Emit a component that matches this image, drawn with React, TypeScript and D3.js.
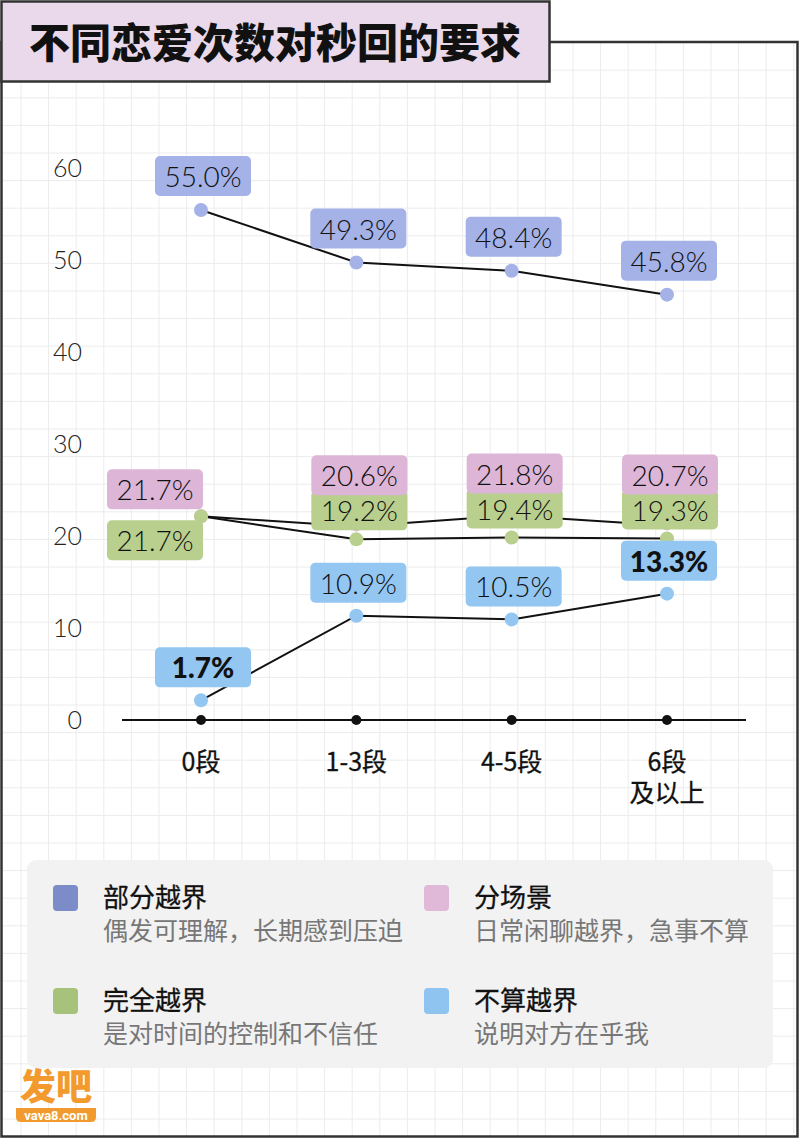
import React from 'react';
import * as d3 from 'd3';

const categories = ['0段', '1-3段', '4-5段', '6段\n及以上'];
const seriesNames = ['部分越界', '分场景', '完全越界', '不算越界'];
const seriesNotes = ['偶发可理解，长期感到压迫', '日常闲聊越界，急事不算', '是对时间的控制和不信任', '说明对方在乎我'];
const partialValues = [55.0, 49.3, 48.4, 45.8];
const sceneValues = [21.7, 20.6, 21.8, 20.7];
const fullValues = [21.7, 19.2, 19.4, 19.3];
const notValues = [1.7, 10.9, 10.5, 13.3];
const yTicks = [0, 10, 20, 30, 40, 50, 60];
const boldLabels = [[], [], [], [0, 3]];

const W = 800;
const H = 1139;
const markColors = ['#a4b2e8', '#dcb5d7', '#b9cf8d', '#93c6f1'];
const legendColors = ['#7b8cc8', '#e0b9d9', '#a7c27b', '#8fc4f0'];
const numFont = "'Lato Light', 'Lato', 'Noto Sans', sans-serif";
const boldNumFont = "'Lato', 'Noto Sans', sans-serif";
const cjkFont = "'Noto Sans CJK SC', 'Noto Sans', sans-serif";

export default function App() {
  const x = d3.scalePoint<string>().domain(categories).range([201, 667]);
  const y = d3.scaleLinear().domain([0, 60]).range([716, 164]);
  const allSeries = [partialValues, sceneValues, fullValues, notValues];
  const line = d3
    .line<number>()
    .x((_, i) => x(categories[i]) as number)
    .y((v) => y(v));

  const gridX = d3.range(21, W, 27.6);
  const gridY = d3.range(15, H, 27.6);

  const BW = 96;
  const BH = 40;
  type Box = { s: number; i: number; cx: number; top: number };
  const boxes: Box[] = [];
  categories.forEach((c, i) => {
    const px = x(c) as number;
    boxes.push({ s: 0, i, cx: px + 2, top: y(partialValues[i]) - 14 - BH });
    boxes.push({ s: 3, i, cx: px + 2, top: y(notValues[i]) - 13 - BH });
    if (i === 0) {
      const py = y(sceneValues[i]);
      boxes.push({ s: 2, i, cx: px - 46, top: py + 4 });
      boxes.push({ s: 1, i, cx: px - 46, top: py - 7 - BH });
    } else {
      const gb = y(fullValues[i]) - 9;
      boxes.push({ s: 2, i, cx: px + 3, top: gb - BH });
      boxes.push({ s: 1, i, cx: px + 3, top: gb - 35 - BH });
    }
  });
  const boxOrder = [0, 2, 1, 3];
  boxes.sort((a, b) => boxOrder.indexOf(a.s) - boxOrder.indexOf(b.s));

  const dotOrder = [3, 1, 2, 0];

  const legendPos = [
    { lx: 53, ly: 885 },
    { lx: 424, ly: 885 },
    { lx: 53, ly: 988 },
    { lx: 424, ly: 988 },
  ];

  return (
    <svg
      width={W}
      height={H}
      style={{ position: 'absolute', left: 0, top: 0, display: 'block', background: '#fff' }}
    >
      {/* grid */}
      <g stroke="#ececec" strokeWidth={1}>
        {gridX.map((gx) => (
          <line key={'gx' + gx} x1={gx} x2={gx} y1={42} y2={1136} />
        ))}
        {gridY.filter((gy) => gy > 42).map((gy) => (
          <line key={'gy' + gy} x1={2} x2={797} y1={gy} y2={gy} />
        ))}
      </g>

      {/* frame */}
      <rect x={1.5} y={42} width={796} height={1094.5} fill="none" stroke="#333" strokeWidth={2.5} />

      {/* title */}
      <rect x={1.5} y={1.5} width={548} height={80} fill="#e9d9eb" stroke="#333" strokeWidth={2.5} />
      <text
        x={29}
        y={58}
        fontFamily={cjkFont}
        fontWeight={900}
        fontSize={41}
        fill="#111"
      >
        不同恋爱次数对秒回的要求
      </text>

      {/* y tick labels */}
      {yTicks.map((t) => (
        <text
          key={'yt' + t}
          x={82}
          y={y(t) + 4}
          dy="0.36em"
          textAnchor="end"
          fontFamily={numFont}
          fontWeight={300}
          fontSize={25}
          fill="#222"
        >
          {t}
        </text>
      ))}

      {/* x axis */}
      <line x1={122} x2={746} y1={y(0) + 4} y2={y(0) + 4} stroke="#111" strokeWidth={2} />
      {categories.map((c) => (
        <g key={'xc' + c}>
          <circle cx={x(c) as number} cy={y(0) + 4} r={5} fill="#111" />
          {c.split('\n').map((part, k) => (
            <text
              key={part}
              x={x(c) as number}
              y={y(0) + 46 + k * 31}
              dy="0.36em"
              textAnchor="middle"
              fontFamily={cjkFont}
              fontWeight={400}
              fontSize={25}
              fill="#111"
              stroke="#111"
              strokeWidth={0.3}
            >
              {part}
            </text>
          ))}
        </g>
      ))}

      {/* lines */}
      {allSeries.map((vals, s) => (
        <path key={'ln' + s} d={line(vals) || ''} fill="none" stroke="#111" strokeWidth={2} />
      ))}

      {/* dots */}
      {dotOrder.map((s) =>
        allSeries[s].map((v, i) => (
          <circle
            key={'dot' + s + '-' + i}
            cx={x(categories[i]) as number}
            cy={y(v)}
            r={s === 1 && i > 0 ? 5 : 7}
            fill={markColors[s]}
          />
        ))
      )}

      {/* label boxes */}
      {boxes.map((b) => {
        const v = allSeries[b.s][b.i];
        const bold = boldLabels[b.s].includes(b.i);
        return (
          <g key={'bx' + b.s + '-' + b.i}>
            <rect
              x={b.cx - BW / 2}
              y={b.top}
              width={BW}
              height={BH}
              rx={5}
              fill={markColors[b.s]}
            />
            <text
              x={b.cx}
              y={b.top + BH / 2 + 1}
              dy="0.36em"
              textAnchor="middle"
              fontFamily={bold ? boldNumFont : numFont}
              fontWeight={bold ? 900 : 300}
              fontSize={28}
              fill="#111"
            >
              {v.toFixed(1)}%
            </text>
          </g>
        );
      })}

      {/* legend */}
      <rect x={27} y={860} width={746} height={208} rx={9} fill="#f2f2f2" />
      {seriesNames.map((name, s) => {
        const p = legendPos[s];
        return (
          <g key={'lg' + s}>
            <rect x={p.lx} y={p.ly} width={25} height={26} rx={4} fill={legendColors[s]} />
            <text
              x={p.lx + 50}
              y={p.ly + 13}
              dy="0.36em"
              fontFamily={cjkFont}
              fontWeight={400}
              fontSize={26}
              fill="#111"
              stroke="#111"
              strokeWidth={0.3}
            >
              {name}
            </text>
            <text
              x={p.lx + 50}
              y={p.ly + 46}
              dy="0.36em"
              fontFamily={cjkFont}
              fontSize={25}
              fill="#777"
            >
              {seriesNotes[s]}
            </text>
          </g>
        );
      })}

      {/* logo */}
      <text
        x={56}
        y={1100}
        textAnchor="middle"
        fontFamily={cjkFont}
        fontWeight={900}
        fontSize={36}
        fill="#f39a2e"
      >
        发吧
      </text>
      <path d="M16,1108 H96 V1117 Q96,1122 91,1122 H21 Q16,1122 16,1117 Z" fill="#f39a2e" />
      <text
        x={56}
        y={1115.5}
        dy="0.36em"
        textAnchor="middle"
        fontFamily="'Roboto', sans-serif"
        fontWeight={700}
        fontSize={13}
        fill="#fff"
      >
        vava8.com
      </text>
    </svg>
  );
}
